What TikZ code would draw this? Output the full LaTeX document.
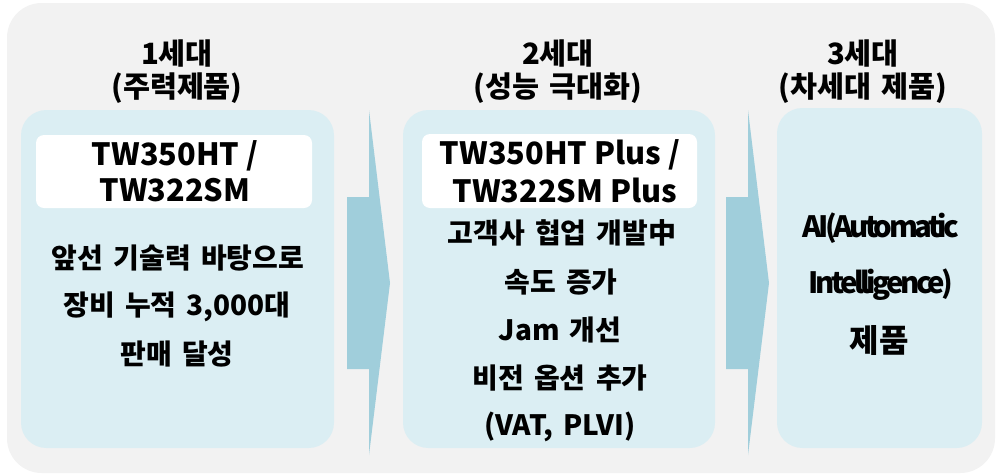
\documentclass[tikz,border=0pt]{standalone}
\usepackage{fontspec}
\setmainfont{Noto Sans CJK KR}
\newfontfamily\krtitle{Noto Sans CJK KR}[WordSpace=1.5]
\newfontfamily\krbody{Noto Sans CJK KR}[WordSpace=1.6]
\newfontfamily\krai{Noto Sans CJK KR}[LetterSpace=-12]
\definecolor{bgc}{RGB}{242,242,242}
\definecolor{boxc}{RGB}{219,238,243}
\definecolor{arrc}{RGB}{160,206,219}
\begin{document}
\begin{tikzpicture}[x=0.75pt,y=-0.75pt,
  title/.style={font=\krtitle\bfseries\fontsize{22}{24}\selectfont, inner sep=0pt, anchor=center},
  body/.style={font=\krbody\bfseries\fontsize{21}{24}\selectfont, inner sep=0pt, anchor=center},
  model/.style={font=\bfseries\fontsize{23}{26}\selectfont, inner sep=0pt, anchor=center},
  ai/.style={font=\krai\bfseries\fontsize{22}{26}\selectfont, inner sep=0pt, anchor=center},
  gen/.style={fill=boxc, rounded corners=19pt},
  whitebox/.style={fill=white, rounded corners=6pt},
  arr/.style={fill=arrc}]
\useasboundingbox (0,0) rectangle (998,475);
\fill[bgc, rounded corners=26pt] (7,3) rectangle (995,473);
% boxes
\fill[gen] (21,110) rectangle (334,448);
\fill[gen] (403,110) rectangle (715,448);
\fill[gen] (777,108) rectangle (982,448);
\fill[whitebox] (36,135) rectangle (312,208);
\fill[whitebox] (422,134) rectangle (697,208);
% arrows
\fill[arr] (347,197) -- (369,197) -- (369,110) -- (390,283) -- (369,455) -- (369,369) -- (347,369) -- cycle;
\fill[arr] (726,197) -- (748,197) -- (748,110) -- (769,283) -- (748,455) -- (748,369) -- (726,369) -- cycle;
% titles
\node[title] (t1a) at (177,53) {1세대};
\node[title] (t1b) at (177,88) {(주력제품)};
\node[title] (t2a) at (558,53) {2세대};
\node[title] (t2b) at (558,88) {(성능 극대화)};
\node[title] (t3a) at (863,53) {3세대};
\node[title] (t3b) at (863,88) {(차세대 제품)};
% box 1
\node[model] (m1a) at (175,156) {TW350HT /};
\node[model] (m1b) at (175,190) {TW322SM};
\node[body] (b1a) at (178,258) {앞선 기술력 바탕으로};
\node[body] (b1b) at (177,307) {장비 누적 3,000대};
\node[body] (b1c) at (177,354) {판매 달성};
% box 2
\node[model] (m2a) at (560,155) {TW350HT Plus /};
\node[model] (m2b) at (565,190) {TW322SM Plus};
\node[body] (b2a) at (562,233) {고객사 협업 개발中};
\node[body] (b2b) at (561,282) {속도 증가};
\node[body] (b2c) at (560,330) {Jam 개선};
\node[body] (b2d) at (560,378) {비전 옵션 추가};
\node[body] (b2e) at (560,427) {(VAT, PLVI)};
% box 3
\node[ai] (c3a) at (881,228) {AI(Automatic};
\node[ai] (c3b) at (881,285) {Intelligence)};
\node[model, font=\bfseries\fontsize{24}{26}\selectfont] (c3c) at (879,340) {제품};
\end{tikzpicture}
\end{document}
